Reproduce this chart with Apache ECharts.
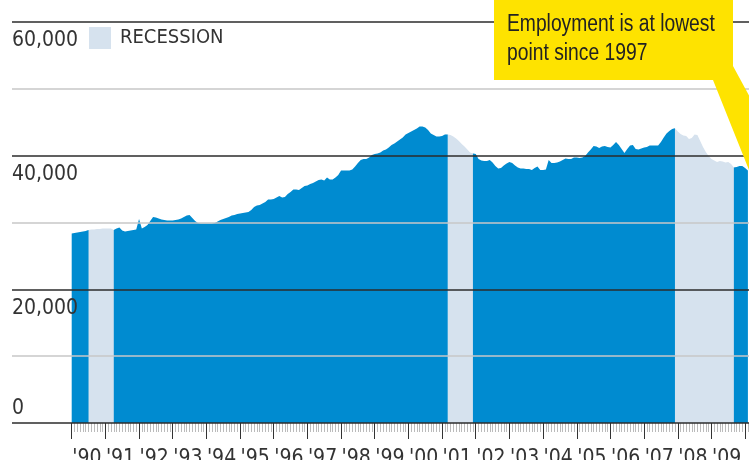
<!DOCTYPE html>
<html>
<head>
<meta charset="utf-8">
<script src="https://cdn.jsdelivr.net/npm/echarts@6/dist/echarts.min.js"></script>
<style>
html,body{margin:0;padding:0;background:#fff;}
#chart{width:749px;height:460px;}
</style>
</head>
<body>
<div id="chart"></div>
<script>
// Monthly values, Jan 1990 .. Feb 2010 (index 0 = Jan 1990)
const employment = [
  28350, 28430, 28510, 28580, 28650, 28730, 28880, 28950, 28950, 29030, 29030, 29100, // 1990
  29100, 29100, 29100, 28880, 29100, 29250, 28800, 28650, 28730, 28800, 28880, 28950, // 1991
  30530, 29100, 29330, 29630, 30230, 30820, 30750, 30600, 30450, 30380, 30300, 30300, // 1992
  30300, 30380, 30450, 30600, 30820, 31050, 31120, 30670, 30230, 29930, 29850, 29850, // 1993
  29850, 29850, 29850, 29930, 30150, 30380, 30530, 30670, 30820, 31050, 31120, 31270, // 1994
  31350, 31420, 31500, 31570, 31870, 32320, 32550, 32620, 32840, 33070, 33440, 33440, // 1995
  33520, 33740, 33970, 33740, 33820, 34270, 34570, 34940, 34940, 34860, 35160, 35460, // 1996
  35540, 35760, 35910, 36140, 36360, 36440, 36290, 36730, 36440, 36440, 36730, 37110, // 1997
  37780, 37780, 37780, 37780, 37930, 38380, 38900, 39350, 39500, 39500, 39730, 40100, // 1998
  40250, 40330, 40480, 40770, 40920, 41220, 41600, 41820, 42120, 42420, 42720, 43170, // 1999
  43390, 43620, 43840, 44070, 44370, 44370, 44220, 43840, 43320, 43090, 42870, 42870, // 2000
  42940, 43170, 43170, 43090, 42870, 42570, 42200, 41750, 41370, 40920, 40480, 40330, // 2001
  40250, 39500, 39280, 39200, 39200, 39350, 38980, 38460, 38080, 38160, 38530, 38830, // 2002
  39050, 38900, 38530, 38230, 38080, 38080, 38010, 38010, 37860, 38160, 38380, 37860, // 2003
  37860, 37930, 39350, 38900, 38900, 38980, 39130, 39350, 39580, 39500, 39500, 39730, // 2004
  39730, 39650, 39730, 39950, 40480, 40920, 41450, 41370, 41150, 41370, 41450, 41300, // 2005
  41220, 41600, 42050, 41600, 41000, 40400, 41000, 41520, 41600, 41000, 40920, 41070, // 2006
  41220, 41300, 41520, 41520, 41520, 41520, 42050, 42720, 43320, 43690, 43990, 44100, // 2007
  43620, 43240, 43020, 42940, 42500, 42650, 43170, 43090, 42200, 41300, 40550, 39950, // 2008
  39500, 39280, 39050, 39200, 39130, 38980, 39050, 38750, 38230, 38310, 38460, 38460, // 2009
  38160, 37780                                                                          // 2010
];
// Recession periods as [first month index, last month index]
const recessions = [[6, 15], [134, 143], [215, 236]];
const yearLabels = ["'90","'91","'92","'93","'94","'95","'96","'97","'98","'99",
                    "'00","'01","'02","'03","'04","'05","'06","'07","'08","'09"];
const yTickLabels = ['0', '20,000', '40,000', '60,000'];
const yTickValues = [0, 20000, 40000, 60000];
const legendLabel = 'RECESSION';
const calloutText = 'Employment is at lowest\npoint since 1997';

const BLUE = '#008bd0';
const LIGHT = '#d6e2ee';
const FONT = "'DejaVu Sans Condensed','DejaVu Sans',sans-serif";
const MONTH_PX = 33.67 / 12;

const inside = m => recessions.some(([s, e]) => m > s && m < e);
const nearRec = m => recessions.some(([s, e]) => m >= s - 1 && m <= e + 1);
const blueData = employment.map((v, m) => [m, inside(m) ? null : v]);
const lightData = employment.map((v, m) => [m, nearRec(m) ? v : null]);
const labelPos = yearLabels.map((_, i) => i * 12 + 5.4);

const yLabel = v => { const i = yTickValues.indexOf(v); return i >= 0 ? yTickLabels[i] : ''; };

const chart = echarts.init(document.getElementById('chart'), null, {renderer: 'canvas'});
chart.setOption({
  animation: false,
  backgroundColor: '#fff',
  grid: [
    {left: 12, right: 0, top: 22, bottom: 37, outerBoundsMode: 'none', containLabel: false},
    {left: 71.7, width: 252 * MONTH_PX, top: 22, bottom: 37, outerBoundsMode: 'none', containLabel: false}
  ],
  legend: {
    data: [legendLabel], left: 89, top: 27, padding: 0, icon: 'rect',
    itemWidth: 22, itemHeight: 22, selectedMode: false,
    itemStyle: {color: LIGHT, borderWidth: 0},
    textStyle: {fontSize: 20, color: '#333', fontFamily: FONT, padding: [0, 0, 0, 4]}
  },
  xAxis: [
    {gridIndex: 0, type: 'value', min: 0, max: 1, show: false},
    {
      gridIndex: 1, type: 'value', min: 0, max: 252, interval: 12,
      axisLine: {show: false},
      axisTick: {show: true, length: 16, lineStyle: {color: '#333', width: 1}},
      minorTick: {show: true, splitNumber: 12, length: 9, lineStyle: {color: '#bbb', width: 1}},
      splitLine: {show: false},
      axisLabel: {
        customValues: labelPos,
        formatter: v => yearLabels[Math.round((v - 5.4) / 12)] || '',
        margin: 25, fontSize: 21, color: '#333', fontFamily: FONT,
        verticalAlign: 'top', lineHeight: 22
      }
    }
  ],
  yAxis: [
    {
      gridIndex: 0, type: 'value', position: 'left', min: 0, max: 60000, interval: 20000, z: 5,
      axisLine: {show: false}, axisTick: {show: false},
      splitLine: {show: true, lineStyle: {color: '#2b2b2b', width: 1.5}},
      minorTick: {show: false, splitNumber: 2},
      minorSplitLine: {show: true, lineStyle: {color: '#c8c8c8', width: 1.5}},
      axisLabel: {
        inside: true, margin: 0, verticalAlign: 'top', lineHeight: 38,
        formatter: v => v === 0 ? '' : yLabel(v),
        fontSize: 21, color: '#333', fontFamily: FONT
      }
    },
    {
      gridIndex: 0, type: 'value', position: 'left', offset: 0, min: 0, max: 60000, interval: 20000, z: 5,
      axisLine: {show: false}, axisTick: {show: false}, splitLine: {show: false},
      axisLabel: {
        inside: true, margin: 0, verticalAlign: 'bottom', lineHeight: 28,
        formatter: v => v === 0 ? yLabel(v) : '',
        fontSize: 21, color: '#333', fontFamily: FONT
      }
    },
    {gridIndex: 1, type: 'value', min: 0, max: 60000, show: false}
  ],
  series: [
    {
      name: legendLabel, type: 'line', xAxisIndex: 1, yAxisIndex: 2,
      data: lightData, symbol: 'none', showSymbol: false, color: LIGHT,
      lineStyle: {width: 0}, areaStyle: {color: LIGHT, opacity: 1}, silent: true
    },
    {
      name: 'Employment', type: 'line', xAxisIndex: 1, yAxisIndex: 2,
      data: blueData, symbol: 'none', showSymbol: false, color: BLUE,
      lineStyle: {width: 0}, areaStyle: {color: BLUE, opacity: 1}, silent: true
    }
  ],
  graphic: [
    {
      type: 'polygon', z: 100, silent: true,
      shape: {points: [[494, 0], [733, 0], [733, 66], [770, 134], [790, 200], [775, 235], [713, 80], [494, 80]]},
      style: {fill: '#fee300'}
    },
    {
      type: 'text', z: 101, x: 507, y: 10, scaleX: 0.82, silent: true,
      style: {text: calloutText, font: "23.5px 'Liberation Sans', Arial, sans-serif", fill: '#222', lineHeight: 29, verticalAlign: 'top'}
    }
  ]
});
</script>
</body>
</html>
